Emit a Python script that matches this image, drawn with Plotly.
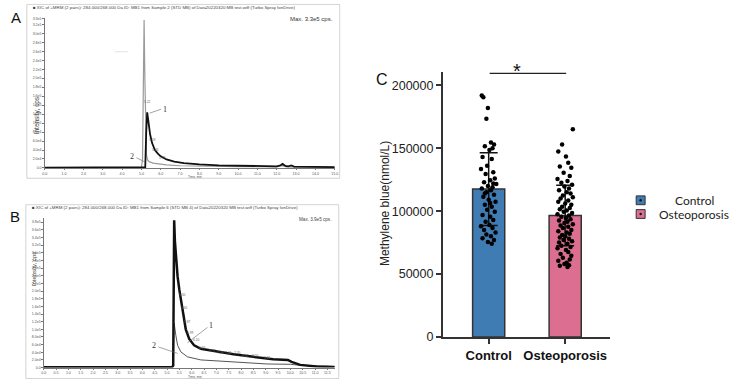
import plotly.graph_objects as go

W, H = 739, 387
def px(x): return x / W
def py(y): return 1 - y / H

# ---------------- Panel C data ----------------
groups = ["Control", "Osteoporosis"]
group_mean = [117500, 96500]
group_sd = [29000, 24000]
bar_colors = ["#407cb4", "#dc6e91"]

control_vals = [192000, 190500, 182000, 173500, 154500, 153000, 151500, 150000, 148500, 143000,
                141500, 136000, 133500, 131000, 129500, 126000, 124500, 123000, 121500, 120000,
                119000, 118000, 116500, 115000, 113000, 111500, 109000, 107500, 105000, 103500,
                101000, 99500, 97000, 95500, 93000, 91500, 89000, 88000, 86500, 85000,
                83000, 81500, 80000, 78500, 77000, 75500, 74000, 122000, 114000, 106500]
control_jitter = [-0.09, -0.07, -0.01, -0.03, 0.03, 0.07, -0.05, 0.05, 0.01, -0.08,
                  0.04, -0.02, -0.10, 0.06, -0.04, 0.08, 0.02, -0.06, 0.10, -0.01,
                  0.05, -0.09, 0.03, -0.03, 0.07, -0.07, 0.00, 0.09, -0.05, 0.04,
                  -0.02, 0.08, -0.08, 0.02, 0.06, -0.04, 0.01, -0.10, 0.05, -0.06,
                  0.09, -0.03, 0.03, -0.08, 0.07, -0.01, 0.04, 0.06, -0.05, 0.02]
osteo_vals = [165000, 153000, 147500, 143500, 138500, 135500, 134500, 130500, 128000, 125500,
              124000, 122500, 121000, 119500, 118000, 116500, 115000, 114000, 112500, 111000,
              110000, 108500, 107500, 106000, 105000, 103500, 102500, 101500, 100500, 99500,
              98500, 97500, 96500, 95500, 94500, 93500, 92500, 91500, 90500, 89500,
              88500, 87500, 86500, 85000, 84000, 83000, 82000, 81000, 80000, 79000,
              78000, 77000, 76000, 75000, 74000, 72500, 71500, 70500, 69000, 67500,
              66000, 64500, 63000, 61500, 60500, 59000, 58000, 57000, 56500, 55500]
osteo_jitter = [0.10, -0.04, -0.09, 0.01, 0.04, -0.07, 0.08, -0.02, 0.06, -0.10,
                0.03, -0.05, 0.09, -0.01, 0.05, -0.08, 0.02, 0.07, -0.03, 0.10,
                -0.06, 0.04, -0.09, 0.00, 0.08, -0.04, 0.06, -0.07, 0.02, -0.02,
                0.09, -0.10, 0.05, -0.05, 0.01, 0.07, -0.08, 0.03, -0.01, 0.10,
                -0.06, 0.04, -0.03, 0.08, -0.09, 0.02, 0.06, -0.04, 0.00, -0.07,
                0.05, -0.02, 0.09, -0.08, 0.03, -0.05, 0.07, -0.10, 0.01, 0.04,
                -0.06, 0.08, -0.03, 0.06, -0.09, 0.02, -0.01, 0.05, -0.07, 0.03]
c_yticks = [0, 50000, 100000, 150000, 200000]

# ---------------- Panel A data (chromatogram) ----------------
a_t1 = [0, 5.0, 5.2, 5.25, 5.3, 5.36, 5.45, 5.55, 5.7, 5.85, 6.0, 6.3, 6.7, 7.2, 8.0, 9.0,
        10.0, 11.0, 12.0, 12.2, 12.3, 12.45, 12.6, 12.75, 12.9, 15.0]
a_i1 = [800, 1000, 2000, 80000, 124000, 105000, 75000, 56000, 40000, 32000, 26000, 19000,
        14000, 11000, 8000, 6000, 5000, 4000, 3500, 6000, 9000, 4500, 3500, 5500, 3000, 2000]
a_t2 = [0, 5.0, 5.06, 5.1, 5.14, 5.18, 5.22, 5.26, 5.32, 5.4, 5.6, 5.9, 6.3, 7.0, 8.0,
        10.0, 12.0, 12.3, 12.5, 15.0]
a_i2 = [500, 600, 20000, 200000, 330000, 200000, 80000, 30000, 18000, 14000, 11000, 9000,
        7000, 5000, 4000, 3000, 2500, 5000, 2500, 1500]
a_peak_lbl = ["5.14", "5.22", "5.59", "5.46", "5.79"]
a_peak_t = [5.2, 5.33, 5.59, 5.71, 6.07]
a_peak_i = [342000, 146000, 63000, 39000, 22000]

# ---------------- Panel B data (chromatogram) ----------------
b_t1 = [0, 5.2, 5.25, 5.29, 5.32, 5.36, 5.43, 5.5, 5.56, 5.67, 5.76, 5.9, 6.1, 6.37, 7.04,
        7.7, 8.5, 9.3, 9.9, 10.05, 10.4, 11.06, 11.8]
b_i1 = [800, 900, 5000, 385000, 330000, 288000, 237000, 203000, 177000, 134000, 100000,
        75000, 58000, 49000, 41000, 35000, 28000, 22000, 20000, 15000, 7000, 2500, 1700]
b_t2 = [0, 5.2, 5.24, 5.29, 5.36, 5.43, 5.56, 5.83, 6.37, 7.7, 9.05, 10.0, 10.3, 11.06, 11.8]
b_i2 = [900, 1000, 3000, 116000, 83000, 58000, 41000, 28000, 20000, 14000, 9400, 8500,
        6500, 4300, 2500]
b_peak_lbl = ["5.27", "5.50", "5.65", "5.87", "5.99", "6.10", "6.56", "6.77", "7.20",
              "7.41", "7.70", "8.02", "8.56", "9.11"]
b_peak_t = [5.29, 5.63, 5.70, 5.83, 5.94, 6.21, 6.43, 6.84, 7.17, 7.51, 7.84, 8.18, 8.58, 9.05]
b_peak_i = [396000, 190000, 156000, 119000, 90000, 71000, 51000, 43000, 37000, 37000,
            38000, 31000, 31000, 26000]

def chrom_label(v):
    if v == 0:
        return "0.0"
    if v < 100000:
        return f"{v/10000:.1f}e4"
    return f"{v/100000:.1f}e5"

a_yticks = list(range(0, 320001, 20000))
b_yticks = list(range(0, 380001, 20000))
a_xticks = list(range(0, 16))
b_xticks = [i * 0.5 for i in range(0, 24)]

fig = go.Figure()

# ---- Panel C traces ----
fig.add_trace(go.Bar(
    x=[0, 1], y=group_mean, width=0.42,
    marker=dict(color=bar_colors, line=dict(color="#333333", width=1.5)),
    error_y=dict(type="data", array=group_sd, visible=True, color="#111111",
                 thickness=1.5, width=9),
    xaxis="x", yaxis="y", showlegend=False, hoverinfo="skip"))
fig.add_trace(go.Scatter(
    x=[0 + j for j in control_jitter], y=control_vals, mode="markers",
    marker=dict(color="#000000", size=4.5), xaxis="x", yaxis="y", showlegend=False))
fig.add_trace(go.Scatter(
    x=[1 + j for j in osteo_jitter], y=osteo_vals, mode="markers",
    marker=dict(color="#000000", size=4.5), xaxis="x", yaxis="y", showlegend=False))

# ---- Panel A traces ----
fig.add_trace(go.Scatter(x=a_t2, y=a_i2, mode="lines", line=dict(color="#9a9a9a", width=1.2),
                         xaxis="x2", yaxis="y2", showlegend=False))
fig.add_trace(go.Scatter(x=a_t1, y=a_i1, mode="lines", line=dict(color="#111111", width=1.8),
                         xaxis="x2", yaxis="y2", showlegend=False))
# ---- Panel B traces ----
fig.add_trace(go.Scatter(x=b_t2, y=b_i2, mode="lines", line=dict(color="#555555", width=1.0),
                         xaxis="x3", yaxis="y3", showlegend=False))
fig.add_trace(go.Scatter(x=b_t1, y=b_i1, mode="lines", line=dict(color="#111111", width=2.5),
                         xaxis="x3", yaxis="y3", showlegend=False))

chrom_font = dict(family="Liberation Sans, Arial", size=3.6, color="#555555")
chrom_axis = dict(showline=True, linecolor="#777777", linewidth=0.7, ticks="outside",
                  ticklen=1.5, tickwidth=0.5, tickcolor="#777777", showgrid=False,
                  zeroline=False, tickfont=chrom_font)

fig.update_layout(
    width=W, height=H, margin=dict(l=0, r=0, t=0, b=0),
    paper_bgcolor="white", plot_bgcolor="rgba(0,0,0,0)",
    font=dict(family="Liberation Sans, Arial", color="#222222"),
    xaxis=dict(domain=[px(444), px(612)], range=[-0.597, 1.584], tickvals=[0, 1],
               ticktext=["<b>" + g + "</b>" for g in groups], showline=True,
               linecolor="#333333", linewidth=2,
               ticks="outside", ticklen=5, tickwidth=1.5, tickcolor="#333333",
               showgrid=False, zeroline=False,
               tickfont=dict(size=13, color="#111111", family="Liberation Sans, Arial"),
               anchor="y"),
    yaxis=dict(domain=[py(343), py(72)], range=[0, 211000], tickvals=c_yticks,
               ticktext=[str(v) for v in c_yticks], showline=True, linecolor="#333333",
               linewidth=2, ticks="outside", ticklen=5, tickwidth=1.5, tickcolor="#333333",
               showgrid=False, zeroline=False,
               tickfont=dict(size=12.5, color="#222222"), anchor="x"),
    xaxis2=dict(domain=[px(43), px(335)], range=[0, 15], tickvals=a_xticks,
                ticktext=[f"{v:.1f}" for v in a_xticks], anchor="y2", **chrom_axis),
    yaxis2=dict(domain=[py(170.5), py(17)], range=[0, 335000], tickvals=a_yticks + [333000],
                ticktext=[chrom_label(v) for v in a_yticks] + ["3.3e5"], anchor="x2",
                **chrom_axis),
    xaxis3=dict(domain=[px(42), px(335)], range=[0, 11.8], tickvals=b_xticks,
                ticktext=[f"{v:.1f}" for v in b_xticks], anchor="y3", **chrom_axis),
    yaxis3=dict(domain=[py(374.3), py(222)], range=[0, 390000], tickvals=b_yticks,
                ticktext=[chrom_label(v) for v in b_yticks], anchor="x3", **chrom_axis),
)

shapes = []
ann = []

# ---- Panel frames ----
shapes.append(dict(type="rect", xref="paper", yref="paper", x0=px(25), x1=px(340),
                   y0=py(181), y1=py(3.5), line=dict(color="#c8c8c8", width=0.8)))
shapes.append(dict(type="rect", xref="paper", yref="paper", x0=px(24), x1=px(339),
                   y0=py(385.5), y1=py(208), line=dict(color="#c8c8c8", width=0.8)))

title_font = dict(family="Liberation Sans, Arial", size=4.4, color="#444444")
ann.append(dict(xref="paper", yref="paper", x=px(29), y=py(6.5), xanchor="left",
                yanchor="middle", showarrow=False, font=title_font,
                text="■ XIC of +MRM (2 pairs): 284.000/268.000 Da ID: MB1 from Sample 2 (STD MB) of Data20220320 MB test.wiff (Turbo Spray IonDrive)"))
ann.append(dict(xref="paper", yref="paper", x=px(28), y=py(210.5), xanchor="left",
                yanchor="middle", showarrow=False, font=title_font,
                text="■ XIC of +MRM (2 pairs): 284.000/268.000 Da ID: MB1 from Sample 6 (STD MB 4) of Data20220320 MB test.wiff (Turbo Spray IonDrive)"))
ann.append(dict(xref="paper", yref="paper", x=px(335), y=py(18), xanchor="right",
                yanchor="middle", showarrow=False,
                font=dict(family="Liberation Sans, Arial", size=6, color="#333333"),
                text="Max. 3.3e5 cps."))
ann.append(dict(xref="paper", yref="paper", x=px(333), y=py(223), xanchor="right",
                yanchor="middle", showarrow=False,
                font=dict(family="Liberation Sans, Arial", size=4.6, color="#444444"),
                text="Max. 3.9e5 cps."))
# axis titles of chromatograms
ann.append(dict(xref="paper", yref="paper", x=px(29.5), y=py(95), textangle=-90,
                showarrow=False, font=dict(family="Liberation Sans, Arial", size=6.5,
                                           color="#444444"), text="Intensity, cps"))
ann.append(dict(xref="paper", yref="paper", x=px(28), y=py(293), textangle=-90,
                showarrow=False, font=dict(family="Liberation Sans, Arial", size=6,
                                           color="#444444"), text="Intensity, cps"))
ann.append(dict(xref="paper", yref="paper", x=px(185), y=py(179.8), showarrow=False,
                yanchor="middle", font=dict(size=3.2, color="#555555"), text="Time, min"))
ann.append(dict(xref="paper", yref="paper", x=px(185), y=py(383.8), showarrow=False,
                yanchor="middle", font=dict(size=3.2, color="#555555"), text="Time, min"))
# panel letters
for letter, x, y in [("A", 14, 17), ("B", 13, 220), ("C", 383, 80)]:
    ann.append(dict(xref="paper", yref="paper", x=px(x), y=py(y), showarrow=False,
                    xanchor="center", yanchor="middle",
                    font=dict(family="Liberation Sans, Arial", size=16 if letter == "C" else 15,
                              color="#111111"), text=letter))

# peak labels
for lbl, t, i in zip(a_peak_lbl, a_peak_t, a_peak_i):
    ann.append(dict(xref="x2", yref="y2", x=t, y=i, showarrow=False, text=lbl,
                    font=dict(size=3.3, color="#666666")))
for lbl, t, i in zip(b_peak_lbl, b_peak_t, b_peak_i):
    ann.append(dict(xref="x3", yref="y3", x=t, y=i, showarrow=False, text=lbl,
                    font=dict(size=3.3, color="#666666")))

# curve number call-outs
num_font = dict(family="Liberation Serif, Times New Roman", size=8, color="#333333")
ann.append(dict(xref="x2", yref="y2", x=6.22, y=131000, showarrow=False, text="1", font=num_font))
shapes.append(dict(type="line", xref="x2", yref="y2", x0=5.42, y0=122000, x1=6.02, y1=131000,
                   line=dict(color="#666666", width=0.6)))
ann.append(dict(xref="x2", yref="y2", x=4.53, y=25500, showarrow=False, text="2", font=num_font))
shapes.append(dict(type="line", xref="x2", yref="y2", x0=4.74, y0=23000, x1=5.2, y1=13000,
                   line=dict(color="#666666", width=0.6)))
shapes.append(dict(type="line", xref="x2", yref="y2", x0=3.62, y0=259000, x1=4.3, y1=259000,
                   line=dict(color="#dddddd", width=0.8)))
ann.append(dict(xref="x3", yref="y3", x=6.77, y=111000, showarrow=False, text="1", font=num_font))
shapes.append(dict(type="line", xref="x3", yref="y3", x0=6.64, y0=105000, x1=5.83, y1=65000,
                   line=dict(color="#666666", width=0.6)))
ann.append(dict(xref="x3", yref="y3", x=4.49, y=58000, showarrow=False, text="2", font=num_font))
shapes.append(dict(type="line", xref="x3", yref="y3", x0=4.65, y0=54000, x1=5.43, y1=37000,
                   line=dict(color="#666666", width=0.6)))

# ---- Panel C extras ----
ann.append(dict(xref="paper", yref="paper", x=px(385), y=py(207), textangle=-90,
                showarrow=False, font=dict(size=12, color="#222222"),
                text="Methylene blue(nmol/L)"))
shapes.append(dict(type="line", xref="paper", yref="paper", x0=px(491), x1=px(568),
                   y0=py(74), y1=py(74), line=dict(color="#222222", width=1.2)))
ann.append(dict(xref="paper", yref="paper", x=px(525), y=py(71), showarrow=False,
                yanchor="middle", font=dict(size=20, color="#111111"), text="*"))

# legend
for yy, col, name in [(203.5, bar_colors[0], groups[0]), (217.5, bar_colors[1], groups[1])]:
    shapes.append(dict(type="rect", xref="paper", yref="paper", x0=px(638.5), x1=px(647.5),
                       y0=py(yy + 4.5), y1=py(yy - 4.5), fillcolor=col,
                       line=dict(color="#333333", width=1)))
    shapes.append(dict(type="circle", xref="paper", yref="paper", x0=px(641.8), x1=px(644.2),
                       y0=py(yy + 1.2), y1=py(yy - 1.2), fillcolor="#111111",
                       line=dict(color="#111111", width=0)))
    ann.append(dict(xref="paper", yref="paper", x=px(697), y=py(yy), showarrow=False,
                    xanchor="center", yanchor="middle",
                    font=dict(family="Lato, Open Sans", size=12, color="#222222"), text=name))

fig.update_layout(shapes=shapes, annotations=ann)
fig.write_html("out.html", config={"displayModeBar": False},
               post_script="document.body.style.margin='0';document.body.style.overflow='hidden';")
